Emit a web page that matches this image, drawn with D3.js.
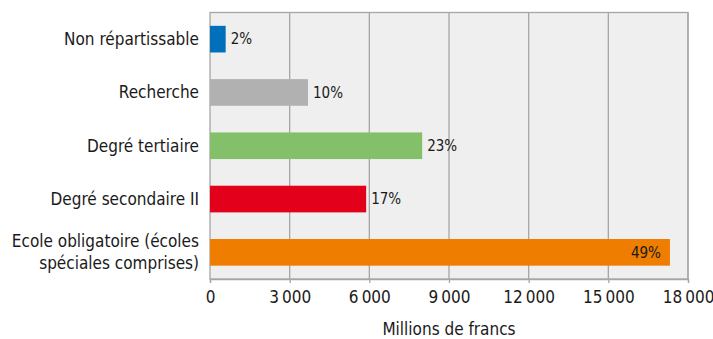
<!DOCTYPE html>
<html><head><meta charset="utf-8">
<script src="https://cdn.jsdelivr.net/npm/d3@7"></script>
<style>body{margin:0;background:#fff}svg{display:block}text{font-family:"DejaVu Sans Condensed","Liberation Sans Narrow",sans-serif;fill:#1a1a1a}</style>
</head><body><svg id="c" width="713" height="339"></svg>
<script>
const categories = ["Non répartissable","Recherche","Degré tertiaire","Degré secondaire II","Ecole obligatoire (écoles spéciales comprises)"];
const labelLines = [["Non répartissable"],["Recherche"],["Degré tertiaire"],["Degré secondaire II"],["Ecole obligatoire (écoles","spéciales comprises)"]];
const values = [590, 3690, 7990, 5880, 17320];
const shares = ["2%","10%","23%","17%","49%"];
const colors = ["#0070ba","#b1b1b1","#84c06a","#e2001a","#ee7d00"];
const tickValues = [0,3000,6000,9000,12000,15000,18000];
const xTitle = "Millions de francs";

const svg = d3.select("#c");
const L=210, R=688, T=12.5, B=279;
const x = d3.scaleLinear().domain([0,18000]).range([L,R]);
const y = d3.scaleBand().domain(categories).range([T,B]).paddingInner(0.5).paddingOuter(0.25);

svg.append("rect").attr("x",L).attr("y",T).attr("width",R-L).attr("height",B-T).attr("fill","#efefef");
svg.append("g").selectAll("line").data(tickValues.slice(1)).join("line")
  .attr("x1",d=>x(d)).attr("x2",d=>x(d)).attr("y1",T).attr("y2",B)
  .attr("stroke","#a6a6a6").attr("stroke-width",1.3);
svg.append("rect").attr("x",L).attr("y",T).attr("width",R-L).attr("height",B-T).attr("fill","none").attr("stroke","#a6a6a6").attr("stroke-width",1.3);

const fmt = d => d3.format(",")(d).replace(/,/g,"\u2009");
const ax = svg.append("g").attr("transform",`translate(0,${B})`)
  .call(d3.axisBottom(x).tickValues(tickValues).tickSize(4).tickPadding(8).tickFormat(fmt));
ax.select(".domain").attr("stroke","#a6a6a6").attr("stroke-width",1.3);
ax.selectAll(".tick line").attr("stroke","#a6a6a6").attr("stroke-width",1.3);
ax.selectAll(".tick text").attr("font-size",17).attr("font-family",null).attr("fill","#1a1a1a");

svg.append("g").selectAll("rect").data(categories).join("rect")
  .attr("x",x(0)).attr("y",d=>y(d)).attr("height",y.bandwidth())
  .attr("width",(d,i)=>x(values[i])-x(0)).attr("fill",(d,i)=>colors[i]);

svg.append("g").selectAll("text").data(categories).join("text")
  .attr("x",(d,i)=> i===4 ? x(values[i])-9 : x(values[i])+5)
  .attr("y",d=>y(d)+y.bandwidth()/2).attr("dy","0.35em")
  .attr("text-anchor",(d,i)=> i===4 ? "end":"start")
  .attr("font-size",15).text((d,i)=>shares[i]);

const cl = svg.append("g").selectAll("text").data(categories).join("text")
  .attr("x",199).attr("text-anchor","end").attr("font-size",17)
  .attr("y",d=>y(d)+y.bandwidth()/2);
cl.each(function(d,i){
  const lines = labelLines[i];
  const n = lines.length;
  d3.select(this).selectAll("tspan").data(lines).join("tspan")
    .attr("x",199).attr("dy",(l,j)=> j===0 ? `${0.35-(n-1)*0.65}em` : "1.3em").text(l=>l);
});

svg.append("text").attr("x",(L+R)/2).attr("y",329).attr("dy","0.35em").attr("text-anchor","middle").attr("font-size",17).text(xTitle);
</script></body></html>
